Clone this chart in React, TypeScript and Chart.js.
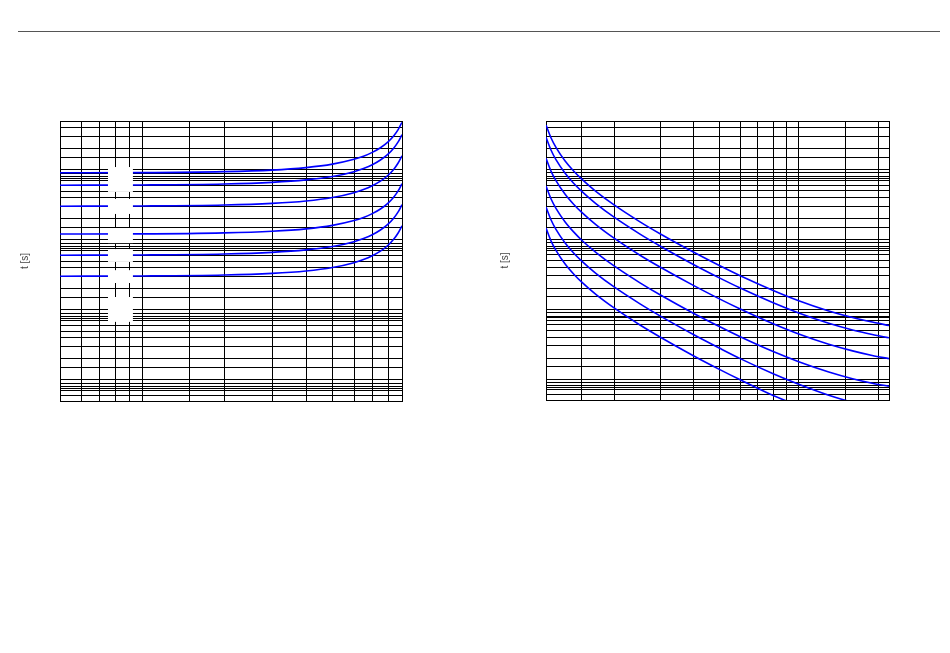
import React, { useEffect, useRef } from "react";
import { Chart, registerables } from "chart.js";

Chart.register(...registerables);

// ---------- data ----------
const TIME_MULTIPLIERS = ["1.5", "1", "0.5", "0.2", "0.1", "0.05"];

// Left chart: reset time vs I/Ip (below pickup)
const RESET_M = [0.05, 0.1, 0.2, 0.3, 0.4, 0.5, 0.6, 0.65, 0.7, 0.75, 0.8, 0.84, 0.87, 0.9];
const RESET_T_150 = [18.2, 18.3, 18.9, 19.9, 21.6, 24.2, 28.4, 31.4, 35.6, 41.5, 50.4, 61.6, 74.7, 95.5];
const RESET_T_100 = [12.1, 12.2, 12.6, 13.3, 14.4, 16.1, 18.9, 21.0, 23.7, 27.7, 33.6, 41.1, 49.8, 63.7];
const RESET_T_050 = [6.07, 6.11, 6.3, 6.65, 7.2, 8.07, 9.45, 10.5, 11.9, 13.8, 16.8, 20.5, 24.9, 31.8];
const RESET_T_020 = [2.43, 2.44, 2.52, 2.66, 2.88, 3.23, 3.78, 4.19, 4.75, 5.53, 6.72, 8.22, 9.95, 12.7];
const RESET_T_010 = [1.21, 1.22, 1.26, 1.33, 1.44, 1.61, 1.89, 2.1, 2.37, 2.77, 3.36, 4.11, 4.98, 6.37];
const RESET_T_005 = [0.607, 0.611, 0.63, 0.665, 0.72, 0.807, 0.945, 1.05, 1.19, 1.38, 1.68, 2.06, 2.49, 3.18];

// Right chart: trip time vs I/Ip (above pickup)
const TRIP_M = [1.1, 1.15, 1.2, 1.3, 1.4, 1.5, 1.7, 2, 2.5, 3, 4, 5, 6, 8, 10, 13, 16, 19, 22];
const TRIP_T_150 = [87.7, 57.1, 41.9, 26.7, 19.2, 14.8, 9.81, 6.21, 3.58, 2.38, 1.31, 0.846, 0.605, 0.372, 0.265, 0.189, 0.152, 0.131, 0.117];
const TRIP_T_100 = [58.5, 38.1, 27.9, 17.8, 12.8, 9.87, 6.54, 4.14, 2.39, 1.59, 0.871, 0.564, 0.403, 0.248, 0.177, 0.126, 0.101, 0.087, 0.078];
const TRIP_T_050 = [29.2, 19.0, 14.0, 8.92, 6.42, 4.93, 3.27, 2.07, 1.19, 0.793, 0.436, 0.282, 0.202, 0.124, 0.0884, 0.063, 0.0506, 0.0435, 0.0392];
const TRIP_T_020 = [11.7, 7.62, 5.59, 3.57, 2.57, 1.97, 1.31, 0.828, 0.478, 0.317, 0.174, 0.113, 0.0807, 0.0495, 0.0354, 0.0252, 0.0202, 0.0174, 0.0157];
const TRIP_T_010 = [5.85, 3.81, 2.79, 1.78, 1.28, 0.987, 0.654, 0.414, 0.239, 0.158, 0.0862, 0.0555, 0.0392, 0.0238, 0.0168, 0.0117, 0.0093, 0.0082, 0.0074];
const TRIP_T_005 = [2.92, 1.9, 1.4, 0.892, 0.642, 0.493, 0.327, 0.207, 0.119, 0.0788, 0.0428, 0.0275, 0.0195, 0.0116, 0.0083, 0.0059, 0.0047, 0.0041, 0.0037];

// grid / tick values
const RESET_X_TICKS = [0.05, 0.06, 0.07, 0.08, 0.09, 0.1, 0.15, 0.2, 0.3, 0.4, 0.5, 0.6, 0.7, 0.8, 0.9];
const TRIP_X_TICKS = [1.1, 1.5, 2, 3, 4, 5, 6, 7, 8, 9, 10, 15, 20, 22];
const Y_TICKS = [
  0.01, 0.012, 0.014, 0.015, 0.016, 0.018, 0.02, 0.03, 0.04, 0.06, 0.08,
  0.1, 0.12, 0.14, 0.15, 0.16, 0.18, 0.2, 0.3, 0.4, 0.6, 0.8,
  1, 1.2, 1.4, 1.5, 1.6, 1.8, 2, 3, 4, 6, 8,
  10, 12, 14, 15, 16, 18, 20, 30, 40, 60, 80,
  100,
];
const Y_LABEL = "t [s]";

// ---------- chart helpers ----------
const CURVE_COLOR = "#0000ff";

function makeDatasets(m: number[], series: number[][]) {
  return series.map((vals, i) => ({
    label: TIME_MULTIPLIERS[i],
    data: m.map((x, j) => ({ x, y: vals[j] })),
    borderColor: CURVE_COLOR,
    borderWidth: 1.6,
    pointRadius: 0,
    fill: false,
    cubicInterpolationMode: "monotone" as const,
  }));
}

function logScale(min: number, max: number, ticks: number[], title?: { pad: { top: number; bottom: number } }) {
  return {
    type: "logarithmic" as const,
    min,
    max,
    afterBuildTicks: (scale: any) => {
      scale.ticks = ticks.map((v) => ({ value: v }));
    },
    ticks: { display: false },
    grid: { color: "#000", lineWidth: 1, drawTicks: false },
    border: { display: true, color: "#000", width: 1 },
    title: title
      ? {
          display: true,
          text: Y_LABEL,
          color: "#444",
          font: { family: "'Liberation Sans', Arial, sans-serif", size: 10 },
          padding: title.pad,
        }
      : { display: false },
  };
}

// white label boxes over the reset curves (in data units)
const whiteBoxes = {
  id: "whiteBoxes",
  afterDatasetsDraw(chart: any, _args: any, opts: any) {
    if (!opts || !opts.boxes) return;
    const { ctx, scales } = chart;
    ctx.save();
    ctx.fillStyle = "#fff";
    for (const b of opts.boxes) {
      const x0 = scales.x.getPixelForValue(b.x0);
      const x1 = scales.x.getPixelForValue(b.x1);
      const y0 = scales.y.getPixelForValue(b.y1);
      const y1 = scales.y.getPixelForValue(b.y0);
      ctx.fillRect(x0, y0, x1 - x0, y1 - y0);
    }
    ctx.restore();
  },
};

function CurveChart(props: {
  left: number;
  top: number;
  width: number;
  height: number;
  config: any;
}) {
  const ref = useRef<HTMLCanvasElement | null>(null);
  useEffect(() => {
    if (!ref.current) return;
    const chart = new Chart(ref.current, props.config);
    return () => chart.destroy();
  }, []);
  return (
    <canvas
      ref={ref}
      width={props.width}
      height={props.height}
      style={{
        position: "absolute",
        left: props.left,
        top: props.top,
        width: props.width,
        height: props.height,
      }}
    />
  );
}

const commonOptions = {
  animation: false as const,
  responsive: false,
  maintainAspectRatio: false,
  devicePixelRatio: 1,
  plugins: { legend: { display: false }, tooltip: { enabled: false } },
};

export default function App() {
  const resetConfig = {
    type: "line",
    data: {
      datasets: makeDatasets(RESET_M, [RESET_T_150, RESET_T_100, RESET_T_050, RESET_T_020, RESET_T_010, RESET_T_005]),
    },
    options: {
      ...commonOptions,
      layout: { padding: { left: 0, right: 8, top: 6, bottom: 6 } },
      plugins: {
        ...commonOptions.plugins,
        whiteBoxes: {
          boxes: [
            { x0: 0.075, x1: 0.0926, y0: 9.7, y1: 22 },
            { x0: 0.075, x1: 0.0926, y0: 4.7, y1: 7.7 },
            { x0: 0.075, x1: 0.0926, y0: 1.8, y1: 2.96 },
            { x0: 0.075, x1: 0.0926, y0: 0.97, y1: 1.48 },
            { x0: 0.075, x1: 0.0926, y0: 0.485, y1: 0.74 },
            { x0: 0.075, x1: 0.0926, y0: 0.135, y1: 0.306 },
          ],
        },
      },
      scales: {
        x: logScale(0.05, 0.9, RESET_X_TICKS),
        y: logScale(0.01, 100, Y_TICKS, { pad: { top: 9, bottom: 29 } }),
      },
    },
    plugins: [whiteBoxes],
  };

  const tripConfig = {
    type: "line",
    data: {
      datasets: makeDatasets(TRIP_M, [TRIP_T_150, TRIP_T_100, TRIP_T_050, TRIP_T_020, TRIP_T_010, TRIP_T_005]),
    },
    options: {
      ...commonOptions,
      layout: { padding: { left: 0, right: 11, top: 6, bottom: 7 } },
      scales: {
        x: logScale(1.1, 22, TRIP_X_TICKS),
        y: logScale(0.01, 100, Y_TICKS, { pad: { top: 9, bottom: 35 } }),
      },
    },
  };

  return (
    <div style={{ position: "absolute", left: 0, top: 0, width: 950, height: 653, background: "#fff" }}>
      <div style={{ position: "absolute", left: 18, top: 31, width: 922, height: 1, background: "#555" }} />
      <CurveChart left={10} top={115} width={400} height={292} config={resetConfig} />
      <CurveChart left={490} top={115} width={410} height={292} config={tripConfig} />
    </div>
  );
}
